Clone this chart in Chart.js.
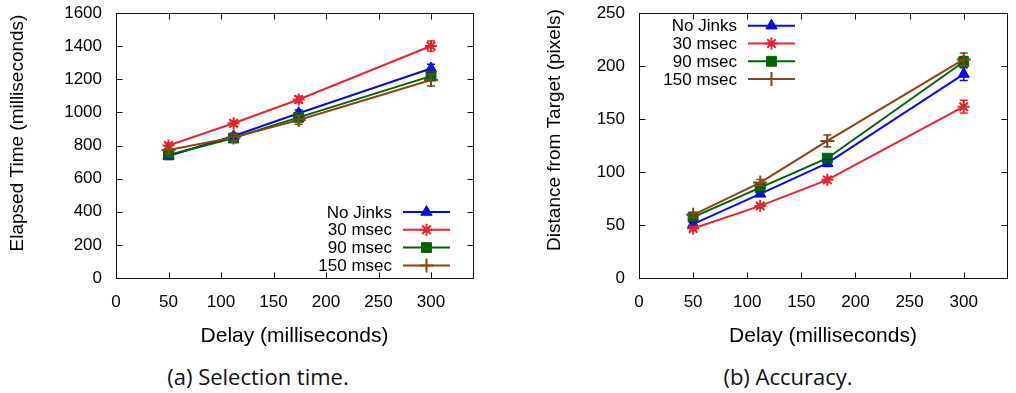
<!DOCTYPE html>
<html>
<head>
<meta charset="utf-8">
<script src="https://cdn.jsdelivr.net/npm/chart.js@4/dist/chart.umd.min.js"></script>
<style>
  body { margin: 0; background: #fff; width: 1016px; height: 393px; position: relative; overflow: hidden; }
  .box { position: absolute; top: 0; height: 352px; }
  .caption { position: absolute; top: 361px; font-family: "Open Sans", sans-serif; font-size: 22px; color: #111; text-align: center; width: 300px; }
</style>
</head>
<body>
<div class="box" style="left:0; width:500px;"><canvas id="timeChart"></canvas></div>
<div class="box" style="left:530px; width:486px;"><canvas id="accChart"></canvas></div>
<div class="caption" style="left:108px;">(a) Selection time.</div>
<div class="caption" style="left:638px;">(b) Accuracy.</div>
<script>
// delays on the x axis (milliseconds)
const delays = [50, 112, 174, 300];
const delayTicks = [0, 50, 100, 150, 200, 250, 300];
const seriesNames = ['No Jinks', '30 msec', '90 msec', '150 msec'];

// (a) elapsed time
const timeTicks = [0, 200, 400, 600, 800, 1000, 1200, 1400, 1600];
const timeNoJinks = [737, 857, 995, 1265];
const time30 = [800, 934, 1078, 1401];
const time90 = [743, 845, 970, 1219];
const time150 = [773, 849, 954, 1195];
const timeErr = [[15, 15, 20, 25], [15, 15, 20, 30], [15, 15, 20, 25], [25, 20, 25, 35]];

// (b) distance from target
const distTicks = [0, 50, 100, 150, 200, 250];
const distNoJinks = [50.8, 79.4, 108.3, 192.4];
const dist30 = [46.7, 68, 92.6, 161.6];
const dist90 = [57.4, 85.3, 113, 204];
const dist150 = [59.6, 90, 129.3, 206.2];
const distErr = [[2, 2, 3, 6], [2, 2, 2.5, 6], [2, 2, 3, 5], [2.5, 3, 5.5, 6]];

const colors = ['#0a0ae0', '#e3262f', '#006400', '#8b4513'];
const styles = [
  { pointStyle: 'triangle', radius: 6.5, borderWidth: 1 },
  { pointStyle: 'star', radius: 6, borderWidth: 2 },
  { pointStyle: 'rect', radius: 7, borderWidth: 1 },
  { pointStyle: 'cross', radius: 7, borderWidth: 2 },
];

Chart.defaults.font.family = '"Liberation Sans", Arial, sans-serif';
Chart.defaults.color = '#000';

function makeDatasets(all, errs) {
  return all.map((vals, i) => ({
    label: seriesNames[i],
    data: delays.map((d, j) => ({ x: d, y: vals[j] })),
    errors: errs[i],
    borderColor: colors[i],
    backgroundColor: colors[i],
    pointBackgroundColor: colors[i],
    pointBorderColor: colors[i],
    pointStyle: styles[i].pointStyle,
    pointRadius: styles[i].radius,
    pointBorderWidth: styles[i].borderWidth,
    borderWidth: 2,
    tension: 0,
    order: all.length - i,  // last series drawn on top
  }));
}

// frame with inward ticks, error bars, legend and y title (gnuplot look)
const gnuplotLook = {
  id: 'gnuplotLook',
  afterDatasetsDraw(chart, args, opts) {
    const ctx = chart.ctx, a = chart.chartArea;
    const xs = chart.scales.x, ys = chart.scales.y;

    chart.data.datasets.forEach((ds) => {
      ctx.save();
      ctx.strokeStyle = ds.borderColor;
      ctx.lineWidth = 1.5;
      ds.data.forEach((p, j) => {
        const e = ds.errors[j];
        const px = xs.getPixelForValue(p.x);
        const top = ys.getPixelForValue(p.y + e);
        const bot = ys.getPixelForValue(p.y - e);
        ctx.beginPath();
        ctx.moveTo(px, top); ctx.lineTo(px, bot);
        ctx.moveTo(px - 4, top); ctx.lineTo(px + 4, top);
        ctx.moveTo(px - 4, bot); ctx.lineTo(px + 4, bot);
        ctx.stroke();
      });
      ctx.restore();
    });

    // border + mirrored inward ticks
    ctx.save();
    ctx.strokeStyle = '#111';
    ctx.lineWidth = 1;
    const L = Math.round(a.left) + 0.5, R = Math.round(a.right) + 0.5;
    const T = Math.round(a.top) + 0.5, B = Math.round(a.bottom) + 0.5;
    ctx.strokeRect(L, T, R - L, B - T);
    ctx.beginPath();
    xs.ticks.forEach((t) => {
      const px = Math.round(xs.getPixelForValue(t.value)) + 0.5;
      ctx.moveTo(px, B); ctx.lineTo(px, B - 6);
      ctx.moveTo(px, T); ctx.lineTo(px, T + 6);
    });
    ys.ticks.forEach((t) => {
      const py = Math.round(ys.getPixelForValue(t.value)) + 0.5;
      ctx.moveTo(L, py); ctx.lineTo(L + 6, py);
      ctx.moveTo(R, py); ctx.lineTo(R - 6, py);
    });
    ctx.stroke();
    ctx.restore();
  },
  afterDraw(chart, args, opts) {
    const ctx = chart.ctx, a = chart.chartArea;

    // legend: right-aligned text, then a line sample with its marker
    ctx.save();
    ctx.font = '17px "Liberation Sans", Arial, sans-serif';
    ctx.textAlign = 'right';
    ctx.textBaseline = 'middle';
    chart.data.datasets.forEach((ds, i) => {
      const y = a.top + opts.legendY + i * 17.8;
      const x0 = a.left + opts.legendX;
      ctx.fillStyle = '#000';
      ctx.fillText(ds.label, x0 - 11, y + 1);
      ctx.strokeStyle = ds.borderColor;
      ctx.fillStyle = ds.borderColor;
      ctx.lineWidth = 2;
      ctx.beginPath();
      ctx.moveTo(x0, y); ctx.lineTo(x0 + 47, y);
      ctx.stroke();
      ctx.lineWidth = ds.pointBorderWidth;
      Chart.helpers.drawPoint(ctx, {
        pointStyle: ds.pointStyle, radius: ds.pointRadius, rotation: 0, borderWidth: ds.pointBorderWidth
      }, x0 + 23.5, y);
    });

    // rotated y axis title
    ctx.translate(opts.titleX, opts.titleY);
    ctx.rotate(-Math.PI / 2);
    ctx.textAlign = 'center';
    ctx.fillStyle = '#000';
    ctx.font = '19px "Liberation Sans", Arial, sans-serif';
    ctx.fillText(opts.title, 0, 0);
    ctx.restore();
  }
};

function makeOptions(yTicks, yWidth, padRight, look) {
  return {
    responsive: true,
    maintainAspectRatio: false,
    animation: false,
    layout: { padding: { left: 0, right: padRight, top: 13, bottom: 0 } },
    plugins: {
      legend: { display: false },
      tooltip: { enabled: false },
      gnuplotLook: look,
    },
    scales: {
      x: {
        type: 'linear',
        min: 0,
        max: 340,
        grid: { display: false, drawTicks: false },
        border: { display: false },
        ticks: { padding: 14, font: { size: 17 }, callback: (v) => String(v) },
        afterBuildTicks: (axis) => { axis.ticks = delayTicks.map((v) => ({ value: v })); },
        afterFit: (axis) => { axis.height = 74; axis.paddingLeft = 0; axis.paddingRight = 0; },
        title: { display: true, text: 'Delay (milliseconds)', font: { size: 21 }, padding: { top: 0, bottom: 3 } },
      },
      y: {
        min: 0,
        max: yTicks[yTicks.length - 1],
        grid: { display: false, drawTicks: false },
        border: { display: false },
        ticks: { padding: 14, font: { size: 17 }, callback: (v) => String(v) },
        afterBuildTicks: (axis) => { axis.ticks = yTicks.map((v) => ({ value: v })); },
        afterFit: (axis) => { axis.width = yWidth; axis.paddingTop = 0; axis.paddingBottom = 0; },
      }
    }
  };
}

document.addEventListener('DOMContentLoaded', function () {
  new Chart(document.getElementById('timeChart'), {
    type: 'line',
    data: { datasets: makeDatasets([timeNoJinks, time30, time90, time150], timeErr) },
    options: makeOptions(timeTicks, 116, 27, {
      legendX: 287, legendY: 199, title: 'Elapsed Time (milliseconds)', titleX: 18, titleY: 133
    }),
    plugins: [gnuplotLook],
  });

  new Chart(document.getElementById('accChart'), {
    type: 'line',
    data: { datasets: makeDatasets([distNoJinks, dist30, dist90, dist150], distErr) },
    options: makeOptions(distTicks, 109, 8, {
      legendX: 109, legendY: 12.7, title: 'Distance from Target (pixels)', titleX: 25, titleY: 130
    }),
    plugins: [gnuplotLook],
  });
});
</script>
</body>
</html>
